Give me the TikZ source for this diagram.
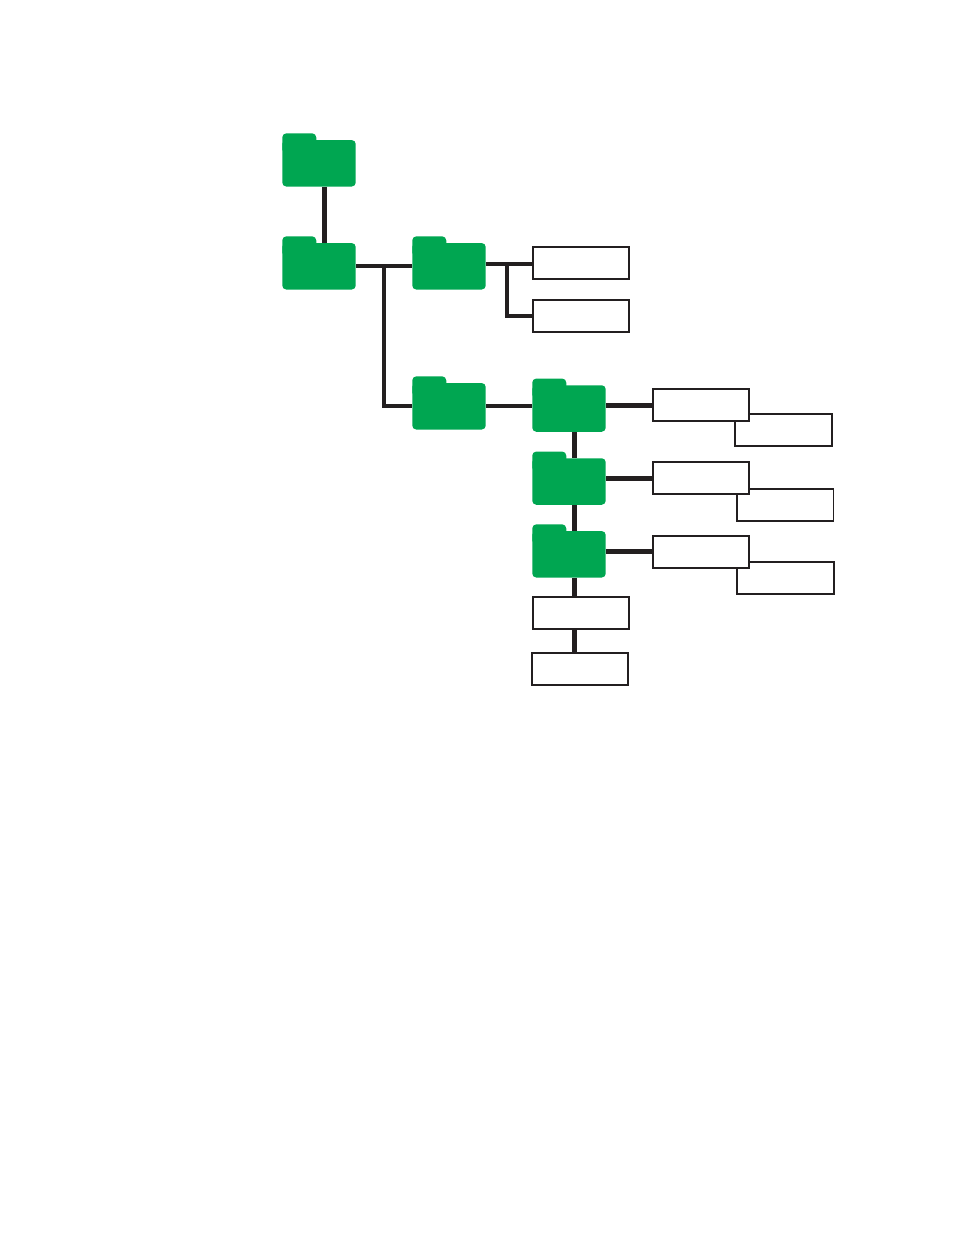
\documentclass[tikz,border=0pt]{standalone}
\usepackage{tikz}
\usetikzlibrary{calc,positioning}
\definecolor{FolderGreen}{HTML}{00A651}
\definecolor{TreeInk}{HTML}{231F20}
\begin{document}
\begin{tikzpicture}[
      x=0.02cm,y=-0.02cm,
      folder/.style={fill=FolderGreen,rounded corners=0.08cm,inner sep=0pt,minimum width=1.47cm,minimum height=0.93cm},
      foldertab/.style={fill=FolderGreen,rounded corners=0.08cm,inner sep=0pt,minimum width=0.68cm,minimum height=0.4cm,anchor=north west},
      filebox/.style={draw=TreeInk,fill=white,line width=0.04cm,inner sep=0pt,minimum width=1.93cm,minimum height=0.64cm},
      backbox/.style={filebox,line width=0.032cm},
      link/.style={draw=TreeInk,line width=0.085cm},
      widelink/.style={draw=TreeInk,line width=0.1cm}
    ]
      \useasboundingbox (0,0) rectangle (954,1235);

      % folders
      \foreach \name/\px/\py in {rootdir/319/163.3,usrdir/319/266.3,confdir/449/266.3,datadir/449/406.3,
                                 alphadir/569/408.5,betadir/569/481.5,gammadir/569/554.3}{
        \node[folder] (\name) at (\px,\py) {};
        \node[foldertab] (\name tab) at ([yshift=0.134cm]\name.north west) {};
      }

      % files
      \node[filebox] (conffile) at (581,263) {};
      \node[filebox] (conflog) at (581,316) {};
      \node[backbox] (alphaback) at (783.5,430) {};
      \node[filebox] (alphafile) at (701.2,405) {};
      \node[backbox] (betaback) at (785.2,504.8) {};
      \node[filebox] (betafile) at (701.2,478.2) {};
      \node[backbox] (gammaback) at (785.5,577.7) {};
      \node[filebox] (gammafile) at (701.2,551.8) {};
      \node[filebox] (upperfile) at (581.2,613.3) {};
      \node[filebox] (lowerfile) at (580,669) {};

      % connectors
      \draw[link] ([xshift=0.11cm]rootdir.south) -- ([xshift=0.11cm]usrdir.north);
      \draw[link] (usrdir.east) -- (confdir.west);
      \coordinate (branch) at ($(usrdir.east)!0.5!(confdir.west)$);
      \draw[link] (branch) |- (datadir.west);
      \draw[link] ([yshift=-0.02cm]conffile.west -| confdir.east) -- ([yshift=-0.02cm]conffile.west);
      \draw[link] ([xshift=0.42cm,yshift=-0.02cm]conffile.west -| confdir.east) |- (conflog.west);
      \draw[link] (datadir.east) -- (datadir.east -| alphadir.west);
      \draw[widelink] (alphafile.west -| alphadir.east) -- (alphafile.west);
      \draw[widelink] (betafile.west -| betadir.east) -- (betafile.west);
      \draw[widelink] (gammafile.west -| gammadir.east) -- (gammafile.west);
      \draw[link] ([xshift=0.11cm]alphadir.south) -- ([xshift=0.11cm]betadir.north);
      \draw[link] ([xshift=0.11cm]betadir.south) -- ([xshift=0.11cm]gammadir.north);
      \draw[link] ([xshift=0.11cm]gammadir.south) -- ([xshift=0.11cm]gammadir.south |- upperfile.north);
      \draw[widelink] ([xshift=0.11cm]gammadir.south |- upperfile.south) -- ([xshift=0.11cm]gammadir.south |- lowerfile.north);
    \end{tikzpicture}
\end{document}
